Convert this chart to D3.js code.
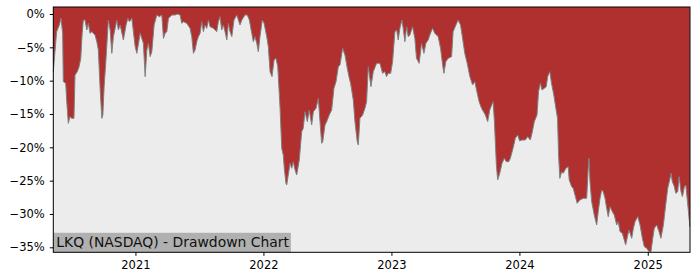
<!DOCTYPE html>
<html>
<head>
<meta charset="utf-8">
<script src="https://cdn.jsdelivr.net/npm/d3@7"></script>
<style>
  body { margin: 0; background: #fff; }
  svg text { font-family: "DejaVu Sans", sans-serif; }
</style>
</head>
<body>
<div id="chart"></div>
<script>
// dates as decimal years, drawdown in percent
const times = [
  2020.360, 2020.386, 2020.407, 2020.420, 2020.433, 2020.438, 2020.457, 2020.464, 2020.477, 2020.490,
  2020.504, 2020.521, 2020.529, 2020.547, 2020.561, 2020.574, 2020.584, 2020.594, 2020.607, 2020.621,
  2020.633, 2020.646, 2020.660, 2020.685, 2020.699, 2020.711, 2020.724, 2020.738, 2020.746, 2020.756,
  2020.771, 2020.781, 2020.789, 2020.803, 2020.816, 2020.828, 2020.842, 2020.855, 2020.867, 2020.881,
  2020.906, 2020.927, 2020.941, 2020.953, 2020.972, 2020.984, 2020.998, 2021.011, 2021.037, 2021.062,
  2021.076, 2021.089, 2021.101, 2021.115, 2021.128, 2021.146, 2021.167, 2021.187, 2021.206, 2021.219,
  2021.232, 2021.245, 2021.258, 2021.284, 2021.310, 2021.328, 2021.349, 2021.362, 2021.375, 2021.401,
  2021.427, 2021.440, 2021.453, 2021.466, 2021.479, 2021.492, 2021.505, 2021.518, 2021.531, 2021.544,
  2021.557, 2021.570, 2021.583, 2021.609, 2021.635, 2021.648, 2021.661, 2021.674, 2021.687, 2021.700,
  2021.714, 2021.726, 2021.739, 2021.753, 2021.770, 2021.792, 2021.817, 2021.831, 2021.856, 2021.874,
  2021.890, 2021.909, 2021.921, 2021.934, 2021.948, 2021.960, 2021.973, 2021.991, 2022.005, 2022.026,
  2022.038, 2022.052, 2022.067, 2022.083, 2022.098, 2022.112, 2022.130, 2022.143, 2022.155, 2022.163,
  2022.176, 2022.182, 2022.194, 2022.208, 2022.221, 2022.233, 2022.247, 2022.260, 2022.280, 2022.299,
  2022.311, 2022.325, 2022.343, 2022.358, 2022.377, 2022.390, 2022.411, 2022.429, 2022.442, 2022.455,
  2022.463, 2022.481, 2022.494, 2022.514, 2022.533, 2022.551, 2022.567, 2022.585, 2022.598, 2022.619,
  2022.637, 2022.655, 2022.671, 2022.681, 2022.702, 2022.715, 2022.733, 2022.741, 2022.754, 2022.775,
  2022.793, 2022.806, 2022.819, 2022.840, 2022.858, 2022.884, 2022.910, 2022.931, 2022.949, 2022.962,
  2022.975, 2022.994, 2023.009, 2023.027, 2023.041, 2023.053, 2023.066, 2023.082, 2023.092, 2023.105,
  2023.119, 2023.131, 2023.144, 2023.165, 2023.183, 2023.196, 2023.217, 2023.235, 2023.254, 2023.269,
  2023.287, 2023.300, 2023.321, 2023.339, 2023.365, 2023.384, 2023.400, 2023.410, 2023.425, 2023.443,
  2023.470, 2023.482, 2023.504, 2023.521, 2023.540, 2023.556, 2023.573, 2023.592, 2023.613, 2023.634,
  2023.651, 2023.665, 2023.685, 2023.704, 2023.734, 2023.752, 2023.768, 2023.794, 2023.804, 2023.820,
  2023.830, 2023.846, 2023.864, 2023.882, 2023.898, 2023.916, 2023.929, 2023.950, 2023.968, 2023.986,
  2024.002, 2024.020, 2024.046, 2024.064, 2024.085, 2024.098, 2024.116, 2024.137, 2024.149, 2024.163,
  2024.176, 2024.194, 2024.209, 2024.220, 2024.237, 2024.250, 2024.268, 2024.284, 2024.297, 2024.305,
  2024.315, 2024.329, 2024.341, 2024.362, 2024.380, 2024.388, 2024.407, 2024.419, 2024.433, 2024.450,
  2024.471, 2024.497, 2024.524, 2024.539, 2024.542, 2024.550, 2024.563, 2024.583, 2024.602, 2024.614,
  2024.628, 2024.641, 2024.653, 2024.667, 2024.680, 2024.692, 2024.706, 2024.724, 2024.739, 2024.758,
  2024.770, 2024.784, 2024.802, 2024.817, 2024.828, 2024.844, 2024.854, 2024.875, 2024.888, 2024.901,
  2024.922, 2024.940, 2024.958, 2024.973, 2024.992, 2025.010, 2025.025, 2025.039, 2025.051, 2025.070,
  2025.088, 2025.103, 2025.122, 2025.140, 2025.156, 2025.174, 2025.182, 2025.192, 2025.208, 2025.219,
  2025.234, 2025.245, 2025.260, 2025.271, 2025.286, 2025.297, 2025.305, 2025.318, 2025.329
];

const drawdown = [
  -8.65, -2.65, -1.65, -0.65, -2.9, -10.15, -10.4, -12.9, -16.4, -15.4,
  -15.65, -15.65, -9.15, -8.65, -7.9, -6.65, -3.15, -0.9, -0.9, -2.4,
  -1.4, -2.9, -2.65, -3.15, -4.15, -5.4, -10.9, -15.65, -15.15, -10.9,
  -6.65, -3.4, -0.9, -2.4, -5.9, -3.4, -2.15, -0.9, -2.4, -1.65,
  -3.9, -1.65, -0.65, -1.15, -0.65, -2.65, -4.9, -5.9, -2.9, -4.4,
  -9.4, -5.4, -4.4, -6.4, -5.65, -1.65, -0.15, -0.4, -0.15, -3.65,
  -2.9, -2.65, -0.65, -0.15, -0.15, 0, -0.15, -1.4, -1.15, -1.4,
  -2.15, -3.4, -5.9, -5.4, -4.15, -3.4, -2.9, -1.15, -2.65, -1.65,
  -2.15, -0.9, -1.9, -2.15, -2.65, -1.15, -0.4, -2.4, -1.65, -2.65,
  -3.9, -1.4, -2.65, -3.4, -0.9, -0.15, -1.65, -0.9, -0.15, -0.15,
  -0.9, -2.9, -4.15, -3.4, -4.4, -5.65, -3.4, -0.9, -1.4, -3.4,
  -4.9, -8.65, -9.4, -6.9, -6.65, -7.9, -14.15, -20.15, -21.15, -23.15,
  -25.4, -25.65, -24.15, -22.4, -23.15, -22.15, -23.4, -24.15, -21.9, -17.65,
  -17.15, -14.65, -16.15, -14.4, -16.65, -14.65, -14.15, -12.65, -16.15, -19.4,
  -19.15, -16.65, -16.15, -15.15, -14.4, -11.15, -10.15, -7.9, -7.65, -5.15,
  -6.15, -8.15, -9.65, -10.4, -12.9, -16.15, -19.15, -19.65, -15.65, -15.15,
  -14.15, -13.15, -7.9, -10.9, -8.65, -7.4, -7.4, -8.9, -8.65, -9.4,
  -8.9, -8.9, -7.15, -2.65, -2.4, -3.9, -2.15, -0.9, -2.15, -4.15,
  -1.9, -3.4, -3.15, -1.9, -3.65, -6.65, -7.4, -4.4, -5.9, -4.4,
  -3.9, -3.15, -2.15, -2.9, -3.4, -5.15, -7.65, -8.9, -7.15, -6.65,
  -6.4, -2.65, -1.65, -0.9, -1.65, -3.65, -5.9, -7.4, -9.4, -10.65,
  -10.15, -11.4, -13.15, -14.15, -15.15, -16.15, -14.4, -13.15, -15.9, -22.65,
  -24.9, -23.9, -22.4, -21.65, -22.15, -22.15, -21.65, -20.15, -18.65, -18.15,
  -19.05, -18.9, -18.9, -18.4, -18.9, -17.9, -16.15, -15.15, -11.65, -10.4,
  -11.4, -11.15, -10.9, -9.4, -8.65, -10.4, -12.15, -14.15, -15.65, -21.15,
  -24.65, -23.65, -23.9, -23.15, -22.9, -24.9, -25.9, -26.15, -27.15, -28.4,
  -27.9, -27.65, -27.65, -22.15, -21.65, -25.15, -28.15, -30.15, -31.65, -29.65,
  -27.65, -26.4, -26.65, -27.65, -29.15, -30.4, -28.9, -29.65, -30.15, -31.65,
  -31.15, -32.65, -32.9, -33.9, -34.65, -33.15, -32.4, -33.65, -32.15, -31.15,
  -30.4, -31.65, -33.65, -34.9, -35.15, -35.65, -35.65, -33.65, -32.15, -31.65,
  -32.65, -33.65, -31.65, -28.65, -26.15, -24.65, -23.9, -25.15, -25.9, -26.9,
  -26.65, -24.4, -26.65, -27.4, -25.9, -25.65, -27.15, -29.65, -31.9
];

const yTicks = [0, -5, -10, -15, -20, -25, -30, -35];
const xTickYears = [2021, 2022, 2023, 2024, 2025];
const title = 'LKQ (NASDAQ) - Drawdown Chart';

function toDate(t) {
  let yr = Math.floor(t);
  let start = new Date(yr, 0, 1), end = new Date(yr + 1, 0, 1);
  return new Date(+start + (t - yr) * (end - start));
}

let data = times.map((t, i) => ({ date: toDate(t), v: drawdown[i] }));

let margin = { top: 7, right: 10, bottom: 28, left: 53.3 },
  width = 690 - margin.left,
  height = 252.3 - margin.top;

let svg = d3.select('#chart')
  .append('svg')
  .attr('width', 700)
  .attr('height', 280)
  .append('g')
  .attr('transform', `translate(${margin.left}, ${margin.top})`);

let x = d3.scaleTime()
  .domain([toDate(2020.360), toDate(2025.330)])
  .range([0, width]);

let y = d3.scaleLinear()
  .domain([-35.75, 1.05])
  .range([height, 0]);

svg.append('rect')
  .attr('width', width)
  .attr('height', height)
  .style('fill', '#ececec');

let area = d3.area()
  .x(d => x(d.date))
  .y0(0)
  .y1(d => y(d.v));

svg.append('path')
  .datum(data)
  .attr('d', area)
  .style('fill', '#b03030');

svg.append('path')
  .datum(data)
  .attr('d', d3.line().x(d => x(d.date)).y(d => y(d.v)))
  .style('fill', 'none')
  .style('stroke', '#808080')
  .style('stroke-width', 1);

// title box
let label = svg.append('g');
let labelText = label.append('text')
  .attr('x', 3)
  .attr('y', height - 5)
  .style('font-size', '13.9px')
  .style('fill', '#111')
  .text(title);
let bw = labelText.node().getComputedTextLength();
label.insert('rect', 'text')
  .attr('x', 0)
  .attr('y', height - 19.5)
  .attr('width', bw + 5)
  .attr('height', 19.5)
  .style('fill', '#b0b0b0');

let xAxis = svg.append('g')
  .attr('transform', `translate(0,${height})`)
  .call(d3.axisBottom(x)
    .tickValues(xTickYears.map(yr => new Date(yr, 0, 1)))
    .tickFormat(d3.timeFormat('%Y'))
    .tickSizeOuter(0)
    .tickSize(3.5)
    .tickPadding(5));

let yAxis = svg.append('g')
  .call(d3.axisLeft(y)
    .tickValues(yTicks)
    .tickFormat(d => (d < 0 ? '\u2212' + Math.abs(d) : d) + '%')
    .tickSizeOuter(0)
    .tickSize(3.5)
    .tickPadding(5));

[xAxis, yAxis].forEach(a => {
  a.select('.domain').remove();
  a.selectAll('text').style('font-size', '11.5px').style('fill', '#000')
    .style('font-family', '"DejaVu Sans", sans-serif');
  a.selectAll('line').style('stroke', '#000');
});

svg.append('rect')
  .attr('width', width)
  .attr('height', height)
  .style('fill', 'none')
  .style('stroke', '#000')
  .style('stroke-width', 1);
</script>
</body>
</html>
